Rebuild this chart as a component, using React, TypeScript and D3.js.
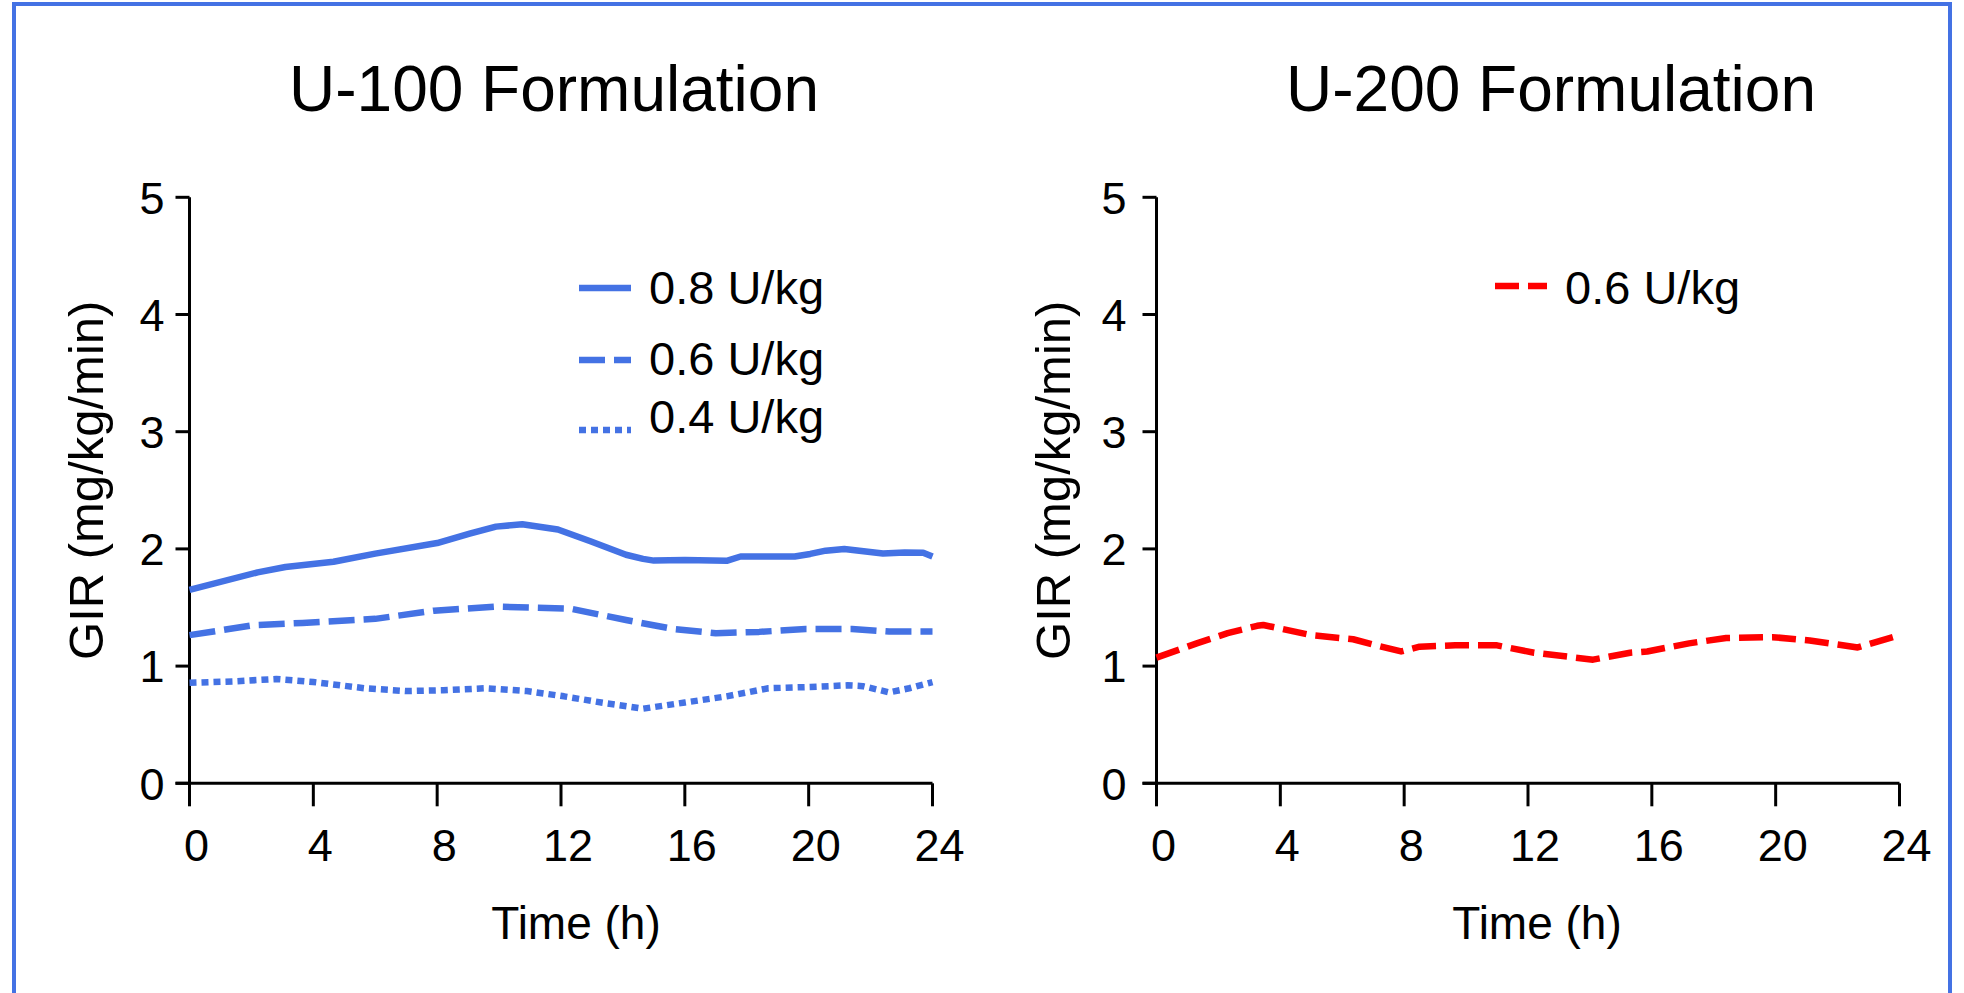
import React from 'react';
import * as d3 from 'd3';

// values (hours, GIR mg/kg/min)
const panelTitles = ['U-100 Formulation', 'U-200 Formulation'];
const xTicks = [0, 4, 8, 12, 16, 20, 24];
const yTicks = [0, 1, 2, 3, 4, 5];

const u100Dose08 = [
  [0, 1.65], [2.2, 1.8], [3.1, 1.845], [4.65, 1.89], [6.0, 1.96], [8.0, 2.05], [9.05, 2.13],
  [9.9, 2.19], [10.75, 2.21], [11.9, 2.165], [12.95, 2.065], [14.1, 1.95], [14.65, 1.915],
  [15.0, 1.9], [16.0, 1.905], [17.35, 1.898], [17.8, 1.935], [19.55, 1.935], [20.05, 1.957],
  [20.55, 1.985], [21.15, 2.0], [22.4, 1.96], [23.1, 1.97], [23.7, 1.967], [24, 1.935],
];
const u100Dose06 = [
  [0, 1.264], [2.1, 1.35], [3.65, 1.368], [6.0, 1.403], [7.9, 1.473], [9.9, 1.508],
  [12.3, 1.49], [14.1, 1.393], [15.65, 1.316], [17.0, 1.281], [18.4, 1.292], [19.9, 1.316],
  [21.4, 1.316], [22.6, 1.295], [24, 1.295],
];
const u100Dose04 = [
  [0, 0.857], [1.45, 0.87], [2.8, 0.89], [4.0, 0.864], [5.65, 0.811], [7.0, 0.787],
  [8.2, 0.794], [9.55, 0.811], [10.9, 0.787], [12.1, 0.742], [13.3, 0.689], [14.65, 0.637],
  [16.0, 0.689], [17.35, 0.742], [18.7, 0.811], [20.05, 0.822], [21.25, 0.836], [21.75, 0.829],
  [22.6, 0.776], [23.25, 0.811], [24, 0.864],
];
const u200Dose06 = [
  [0, 1.072], [1.3, 1.194], [2.3, 1.281], [3.25, 1.344], [3.45, 1.351], [5.0, 1.264],
  [6.35, 1.229], [7.1, 1.177], [7.9, 1.125], [8.5, 1.166], [9.65, 1.177], [11.0, 1.177],
  [12.2, 1.114], [14.1, 1.055], [15.3, 1.114], [15.85, 1.125], [17.2, 1.194], [18.4, 1.24],
  [19.9, 1.247], [21.1, 1.219], [22.65, 1.159], [24, 1.264],
];

const BLUE = '#4472e4';
const RED = '#ff0000';
const FONT = '"Liberation Sans", Arial, Helvetica, sans-serif';

const panels = [
  {
    title: panelTitles[0],
    x0: 189.5,
    x1: 932.5,
    labelGap: 25,
    titleDx: -7,
    xTitleDx: 15,
    series: [
      { name: '0.8 U/kg', data: u100Dose08, color: BLUE, dash: null },
      { name: '0.6 U/kg', data: u100Dose06, color: BLUE, dash: '26 9' },
      { name: '0.4 U/kg', data: u100Dose04, color: BLUE, dash: '7 5' },
    ],
    legend: { lx0: 579, lx1: 631, tx: 649, rows: [[288, 304], [360, 375], [430, 433]] },
  },
  {
    title: panelTitles[1],
    x0: 1156.5,
    x1: 1899.5,
    labelGap: 30,
    titleDx: 23,
    xTitleDx: 9,
    series: [{ name: '0.6 U/kg', data: u200Dose06, color: RED, dash: '24 9' }],
    legend: { lx0: 1495, lx1: 1547, tx: 1565, rows: [[286, 304]] },
  },
];

const yTop = 197.3;
const yBottom = 783.3;

function Panel({ p }) {
  const x = d3.scaleLinear().domain([0, 24]).range([p.x0, p.x1]);
  const y = d3.scaleLinear().domain([0, 5]).range([yBottom, yTop]);
  const line = d3.line().x(d => x(d[0])).y(d => y(d[1]));
  const mid = (p.x0 + p.x1) / 2;

  return (
    <g fontFamily={FONT} fill="#000">
      <text x={mid + p.titleDx} y={111} fontSize={64} textAnchor="middle">{p.title}</text>

      {/* axes */}
      <line x1={x(0)} x2={x(0)} y1={y(5)} y2={y(0)} stroke="#000" strokeWidth={3} />
      <line x1={x(0) - 14} x2={x(24)} y1={y(0)} y2={y(0)} stroke="#000" strokeWidth={3} />
      {yTicks.map(t => (
        <g key={'y' + t}>
          <line x1={x(0) - 14} x2={x(0)} y1={y(t)} y2={y(t)} stroke="#000" strokeWidth={3} />
          <text x={x(0) - p.labelGap} y={y(t)} dy="0.36em" fontSize={45} textAnchor="end">{t}</text>
        </g>
      ))}
      {xTicks.map(t => (
        <g key={'x' + t}>
          <line x1={x(t)} x2={x(t)} y1={y(0)} y2={y(0) + 23} stroke="#000" strokeWidth={3} />
          <text x={x(t) + 7} y={861} fontSize={45} textAnchor="middle">{t}</text>
        </g>
      ))}
      <text x={mid + p.xTitleDx} y={939} fontSize={46} textAnchor="middle">Time (h)</text>
      <text transform={`translate(${x(0) - 86.5},${(yTop + yBottom) / 2 - 10}) rotate(-90)`}
        fontSize={49} textAnchor="middle">GIR (mg/kg/min)</text>

      {/* series */}
      {p.series.map(s => (
        <path key={s.name} d={line(s.data)} fill="none" stroke={s.color} strokeWidth={6.5}
          strokeDasharray={s.dash || undefined} strokeLinejoin="round" />
      ))}

      {/* legend */}
      {p.series.map((s, i) => (
        <g key={'lg' + s.name}>
          <line x1={p.legend.lx0} x2={p.legend.lx1} y1={p.legend.rows[i][0]} y2={p.legend.rows[i][0]}
            stroke={s.color} strokeWidth={6.5} strokeDasharray={s.dash || undefined} />
          <text x={p.legend.tx} y={p.legend.rows[i][1]} fontSize={47}>{s.name}</text>
        </g>
      ))}
    </g>
  );
}

export default function App() {
  return (
    <svg width={1964} height={993} style={{ position: 'absolute', left: 0, top: 0, display: 'block', background: '#fff' }}>
      <rect x={0} y={0} width={1964} height={993} fill="#fff" />
      <rect x={14} y={4} width={1936} height={1100} fill="none" stroke={BLUE} strokeWidth={4} />
      {panels.map(p => <Panel key={p.title} p={p} />)}
    </svg>
  );
}
